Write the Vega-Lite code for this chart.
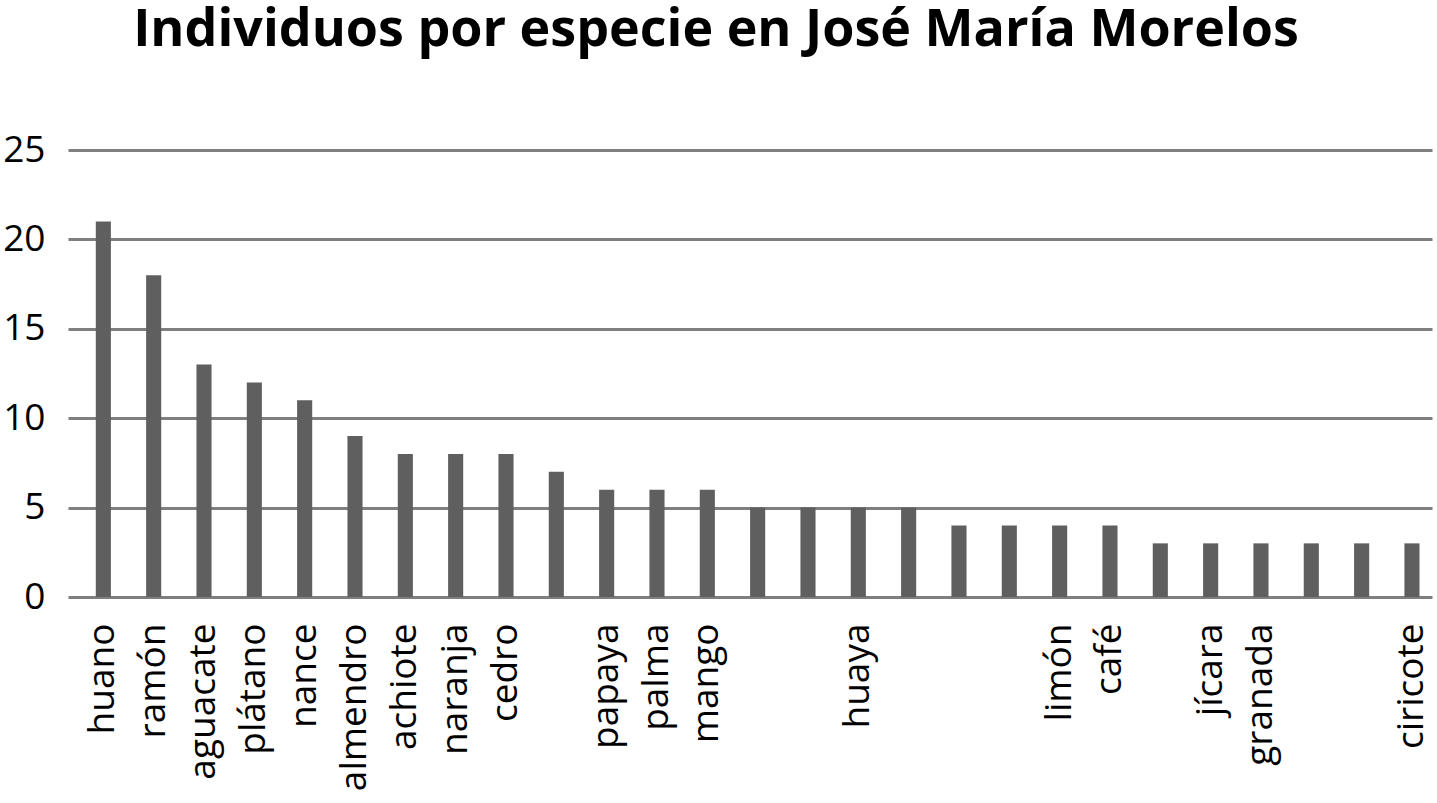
{
  "$schema": "https://vega.github.io/schema/vega-lite/v6.json",
  "width": 1364,
  "height": 447,
  "autosize": {"type": "none"},
  "padding": {"left": 68, "top": 150, "right": 5, "bottom": 206},
  "background": "white",
  "title": {
    "text": "Individuos por especie en José María Morelos",
    "font": "Open Sans",
    "fontSize": 52,
    "fontWeight": "bold",
    "color": "black",
    "anchor": "middle",
    "dx": -34,
    "baseline": "alphabetic",
    "offset": 33
  },
  "data": {
    "values": [
      {"especie": "huano", "individuos": 21},
      {"especie": "ramón", "individuos": 18},
      {"especie": "aguacate", "individuos": 13},
      {"especie": "plátano", "individuos": 12},
      {"especie": "nance", "individuos": 11},
      {"especie": "almendro", "individuos": 9},
      {"especie": "achiote", "individuos": 8},
      {"especie": "naranja", "individuos": 8},
      {"especie": "cedro", "individuos": 8},
      {"especie": " ", "individuos": 7},
      {"especie": "papaya", "individuos": 6},
      {"especie": "palma", "individuos": 6},
      {"especie": "mango", "individuos": 6},
      {"especie": "  ", "individuos": 5},
      {"especie": "   ", "individuos": 5},
      {"especie": "huaya", "individuos": 5},
      {"especie": "    ", "individuos": 5},
      {"especie": "     ", "individuos": 4},
      {"especie": "      ", "individuos": 4},
      {"especie": "limón", "individuos": 4},
      {"especie": "café", "individuos": 4},
      {"especie": "       ", "individuos": 3},
      {"especie": "jícara", "individuos": 3},
      {"especie": "granada", "individuos": 3},
      {"especie": "        ", "individuos": 3},
      {"especie": "         ", "individuos": 3},
      {"especie": "ciricote", "individuos": 3}
    ]
  },
  "mark": {"type": "bar", "color": "#5f5f5f"},
  "encoding": {
    "x": {
      "field": "especie",
      "type": "nominal",
      "sort": null,
      "scale": {"paddingInner": 0.7, "paddingOuter": 0.4, "align": 0.69},
      "axis": {
        "title": null,
        "labelAngle": -90,
        "labelAlign": "right",
        "labelBaseline": "middle",
        "labelFont": "Open Sans",
        "labelFontSize": 37,
        "labelColor": "black",
        "labelPadding": 26,
        "labelOverlap": false,
        "labelLimit": 300,
        "ticks": false,
        "domain": false,
        "grid": false
      }
    },
    "y": {
      "field": "individuos",
      "type": "quantitative",
      "scale": {"domain": [0, 25], "nice": false},
      "axis": {
        "title": null,
        "values": [0, 5, 10, 15, 20, 25],
        "labelFont": "Open Sans",
        "labelFontSize": 37,
        "labelColor": "black",
        "labelPadding": 23,
        "ticks": false,
        "domain": false,
        "grid": true,
        "gridColor": "#7f7f7f",
        "gridWidth": 3,
        "gridOpacity": 1
      }
    }
  },
  "config": {
    "view": {"stroke": null},
    "axis": {"zindex": 0}
  }
}
